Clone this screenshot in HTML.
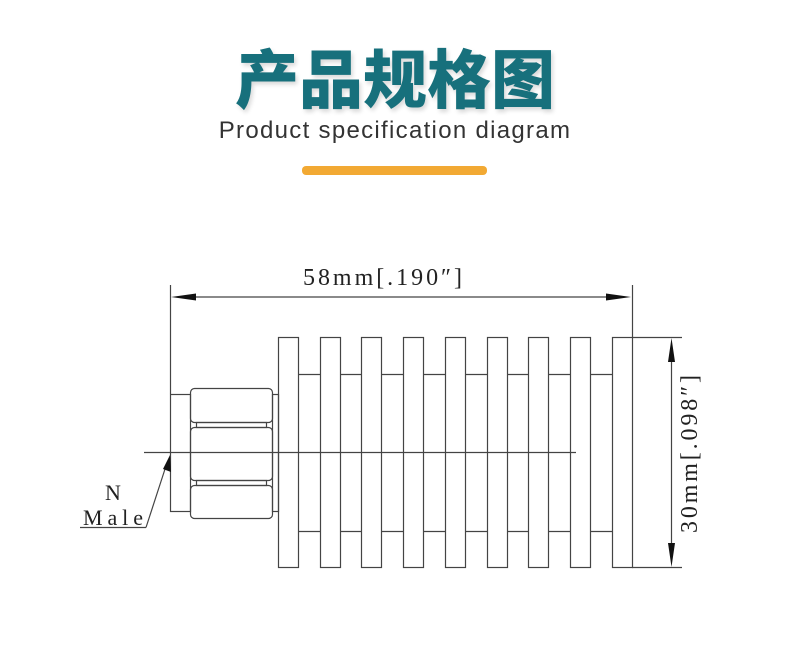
<!DOCTYPE html>
<html><head><meta charset="utf-8"><style>
html,body{margin:0;padding:0;background:#fff;}
body{width:790px;height:656px;position:relative;overflow:hidden;}
.t{position:absolute;left:0;width:790px;text-align:center;top:36px;font:900 64px "Noto Sans CJK SC",sans-serif;color:#17707c;line-height:80px;text-shadow:2px 3px 4px rgba(0,0,0,0.15);}
.s{position:absolute;left:0;width:790px;text-align:center;top:117px;font:24px "Liberation Sans",sans-serif;color:#333;letter-spacing:1.3px;}
.b{position:absolute;left:302px;top:166px;width:185px;height:9px;border-radius:4px;background:#f2a933;}
</style></head><body>
<div class="t">产品规格图</div>
<div class="s">Product specification diagram</div>
<div class="b"></div>
<svg width="790" height="656" style="position:absolute;left:0;top:0" xmlns="http://www.w3.org/2000/svg">
<g stroke="#444" stroke-width="1.2" fill="none">
<line x1="170.5" y1="285" x2="170.5" y2="394"/>
<line x1="632.5" y1="285" x2="632.5" y2="337"/>
<line x1="182" y1="297" x2="620" y2="297"/>
<line x1="632" y1="337.5" x2="682" y2="337.5"/>
<line x1="632" y1="567.5" x2="682" y2="567.5"/>
<line x1="671.5" y1="349" x2="671.5" y2="555"/>
<line x1="298" y1="374.5" x2="612" y2="374.5"/>
<line x1="298" y1="531.5" x2="612" y2="531.5"/>
<g fill="#fff">
<rect x="278.5" y="337.5" width="20" height="230"/>
<rect x="320.5" y="337.5" width="20" height="230"/>
<rect x="361.5" y="337.5" width="20" height="230"/>
<rect x="403.5" y="337.5" width="20" height="230"/>
<rect x="445.5" y="337.5" width="20" height="230"/>
<rect x="487.5" y="337.5" width="20" height="230"/>
<rect x="528.5" y="337.5" width="20" height="230"/>
<rect x="570.5" y="337.5" width="20" height="230"/>
<rect x="612.5" y="337.5" width="20" height="230"/>
</g>
<rect x="170.5" y="394.5" width="20" height="117"/>
<rect x="272.5" y="394.5" width="6" height="117"/>
<rect x="190.5" y="388.5" width="82" height="34" rx="4"/>
<rect x="196.5" y="422.5" width="70" height="5"/>
<rect x="190.5" y="427.5" width="82" height="53" rx="4"/>
<rect x="196.5" y="480.5" width="70" height="5"/>
<rect x="190.5" y="485.5" width="82" height="33" rx="4"/>
<line x1="144" y1="452.5" x2="576" y2="452.5"/>
<line x1="80" y1="527.5" x2="146" y2="527.5"/>
<line x1="146" y1="527.5" x2="166" y2="466"/>
</g>
<g fill="#111">
<polygon points="171,297 196,293.5 196,300.5"/>
<polygon points="631,297 606,293.5 606,300.5"/>
<polygon points="671.5,338 668,362 675,362"/>
<polygon points="671.5,567 668,543 675,543"/>
<polygon points="170,455 171,472 163,469"/>
</g>
<g font-family="Liberation Serif, serif" fill="#222">
<text x="303" y="285" font-size="24" textLength="159" lengthAdjust="spacing">58mm[.190″]</text>
<text x="113" y="500" font-size="22" text-anchor="middle">N</text>
<text x="83" y="525" font-size="22" textLength="60" lengthAdjust="spacing">Male</text>
<text transform="translate(697,533) rotate(-90)" font-size="24" textLength="158" lengthAdjust="spacing">30mm[.098″]</text>
</g>
</svg>
</body></html>
